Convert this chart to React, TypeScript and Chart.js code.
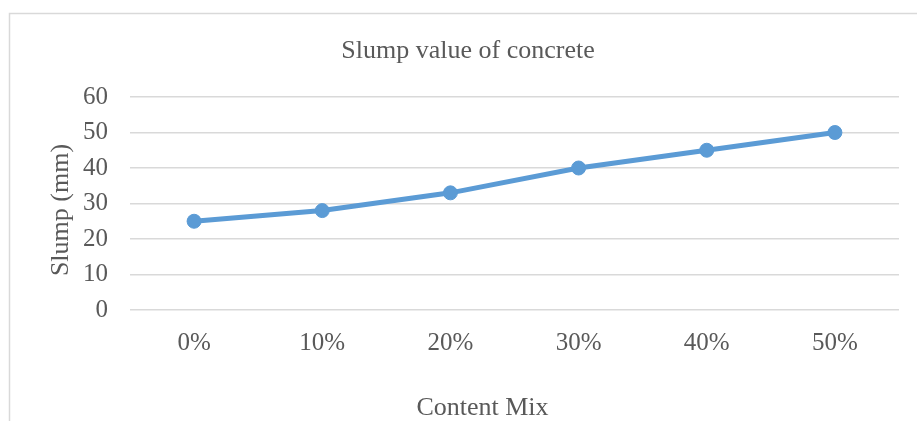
import React, { useEffect, useRef } from "react";
import { Chart, registerables } from "chart.js";

Chart.register(...registerables);

const categories = ["0%", "10%", "20%", "30%", "40%", "50%"];
const slumpValues = [25, 28, 33, 40, 45, 50];
const chartTitle = "Slump value of concrete";
const xAxisTitle = "Content Mix";
const yAxisTitle = "Slump (mm)";
const yMin = 0;
const yMax = 60;
const yStep = 10;

const FONT = "'Liberation Serif', 'Times New Roman', serif";
const TEXT_COLOR = "#595959";

const framePlugin = {
  id: "frameAndTitles",
  beforeDraw(chart: any) {
    const ctx = chart.ctx;
    ctx.save();
    ctx.strokeStyle = "#d9d9d9";
    ctx.lineWidth = 1.5;
    ctx.strokeRect(9.5, 13.5, 1200, 1200);
    ctx.restore();
  },
  afterDraw(chart: any) {
    const ctx = chart.ctx;
    const area = chart.chartArea;
    ctx.save();
    ctx.fillStyle = TEXT_COLOR;
    ctx.textAlign = "center";
    ctx.textBaseline = "middle";
    ctx.font = `26px ${FONT}`;
    ctx.fillText(chartTitle, 468, 51);
    ctx.fillText(xAxisTitle, area.left - 32 + (area.right - area.left) / 2, 408);
    ctx.translate(61, 210);
    ctx.rotate(-Math.PI / 2);
    ctx.fillText(yAxisTitle, 0, 0);
    ctx.restore();
  },
};

export default function App() {
  const ref = useRef<HTMLCanvasElement | null>(null);

  useEffect(() => {
    if (!ref.current) return;
    const chart = new Chart(ref.current, {
      type: "line",
      data: {
        labels: categories,
        datasets: [
          {
            label: "Slump",
            data: slumpValues,
            borderColor: "#5b9bd5",
            backgroundColor: "#5b9bd5",
            borderWidth: 5,
            pointRadius: 7,
            pointBorderWidth: 1,
            pointBackgroundColor: "#5b9bd5",
            pointBorderColor: "#5b9bd5",
            tension: 0,
          },
        ],
      },
      options: {
        responsive: false,
        animation: false,
        devicePixelRatio: 1,
        layout: { padding: { left: 0, right: 18, top: 97, bottom: 0 } },
        plugins: {
          legend: { display: false },
          title: { display: false },
          tooltip: { enabled: false },
        },
        scales: {
          x: {
            offset: true,
            grid: { display: false, drawTicks: false },
            border: { display: false },
            ticks: {
              color: TEXT_COLOR,
              font: { family: FONT, size: 25 },
              padding: 18,
              maxRotation: 0,
            },
            afterFit(scale: any) {
              scale.height = 111;
            },
          },
          y: {
            min: yMin,
            max: yMax,
            grid: { color: "#d9d9d9", lineWidth: 1.5, drawTicks: false },
            border: { display: false },
            ticks: {
              stepSize: yStep,
              color: TEXT_COLOR,
              font: { family: FONT, size: 25 },
              padding: 22,
            },
            afterFit(scale: any) {
              scale.width = 130;
            },
          },
        },
      },
      plugins: [framePlugin],
    });
    return () => chart.destroy();
  }, []);

  return (
    <div style={{ position: "absolute", left: 0, top: 0, width: 917, height: 421, background: "#fff" }}>
      <canvas ref={ref} width={917} height={421} />
    </div>
  );
}
